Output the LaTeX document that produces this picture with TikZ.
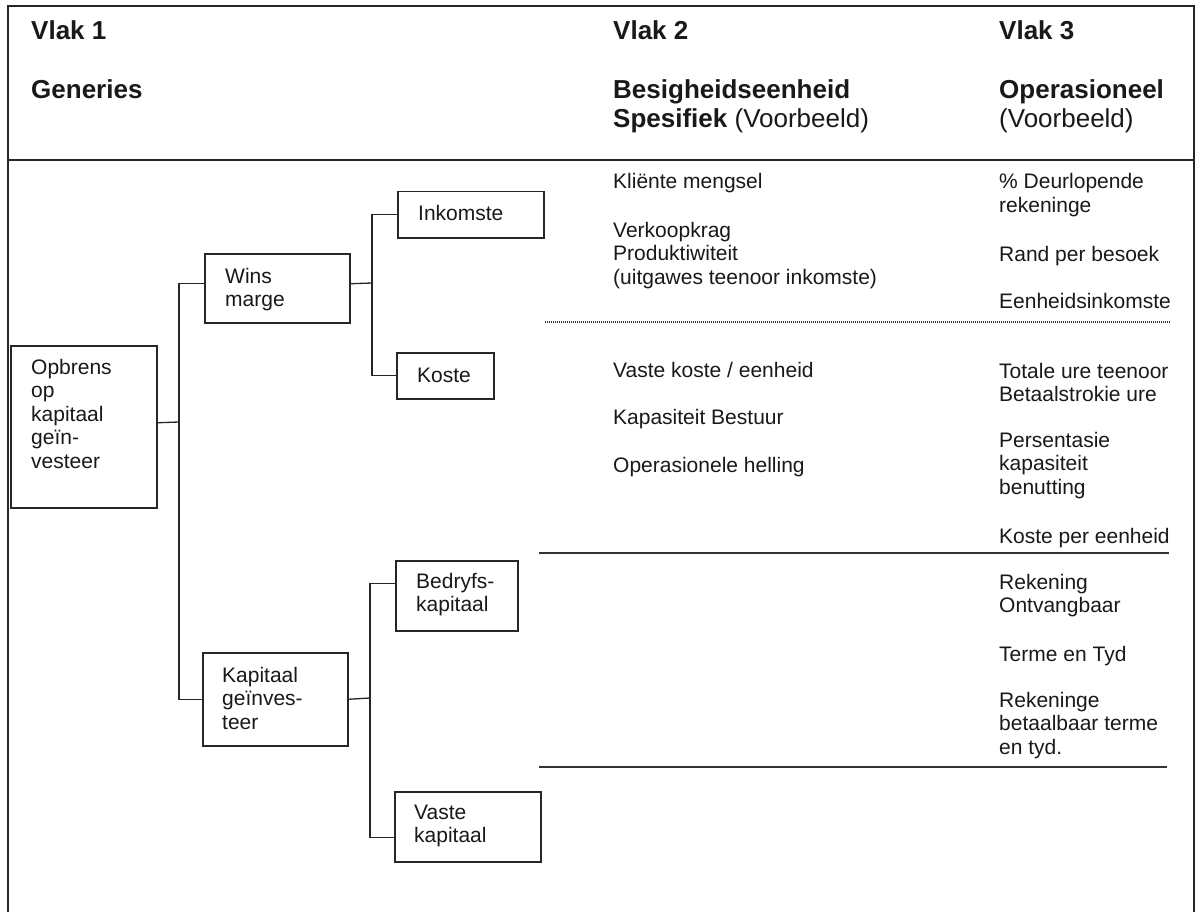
\documentclass[tikz,border=0pt]{standalone}
\usepackage{fontspec}
\setmainfont{Liberation Sans}
\newcommand{\mlines}[1]{\begin{tabular}[t]{@{}l@{}}#1\end{tabular}}
\begin{document}
\begin{tikzpicture}[x=1pt,y=-1pt,
  frame/.style={line width=1.6pt,draw=black!85},
  rule/.style={line width=1.4pt,draw=black!80},
  dotrule/.style={line width=1.6pt,draw=black!80,dash pattern=on 1pt off 1pt},
  conn/.style={line width=1.3pt,draw=black!85},
  tbox/.style={draw=black!85,line width=1.5pt,inner sep=0pt,anchor=north west},
  body/.style={inner sep=0pt,anchor=base west,font=\fontsize{21}{23.5}\selectfont,text=black!90},
  head/.style={inner sep=0pt,anchor=base west,font=\fontsize{26}{29}\selectfont\bfseries,text=black!90}]
\useasboundingbox (0,0) rectangle (1196,912);
\fill[white] (0,0) rectangle (1196,912);
% frame
\draw[frame] (8,912) -- (8,6) -- (1194,6) -- (1194,912);
\draw[frame] (8,160) -- (1194,160);
% headers
\node[head] (v1) at (31,40) {Vlak 1};
\node[head] (gen) at (31,99) {Generies};
\node[head] (v2) at (613,40) {Vlak 2};
\node[head] (bes) at (613,99) {\mlines{Besigheidseenheid\\Spesifiek \mdseries(Voorbeeld)}};
\node[head] (v3) at (999,40) {Vlak 3};
\node[head] (ope) at (999,99) {\mlines{Operasioneel\\\mdseries(Voorbeeld)}};
% tree boxes
\node[tbox,minimum width=146pt,minimum height=162pt] (opb) at (10,345) {};
\node[tbox,minimum width=145pt,minimum height=69pt] (wins) at (204,253) {};
\node[tbox,minimum width=146pt,minimum height=46pt] (ink) at (397,191) {};
\node[tbox,minimum width=97pt,minimum height=46pt] (kos) at (396,352) {};
\node[tbox,minimum width=145pt,minimum height=93pt] (kap) at (202,652) {};
\node[tbox,minimum width=122pt,minimum height=70pt] (bed) at (395,560) {};
\node[tbox,minimum width=146pt,minimum height=70pt] (vas) at (394,791) {};
% box texts
\node[body] (opbt) at (31,374) {\mlines{Opbrens\\op\\kapitaal\\geïn-\\vesteer}};
\node[body] (winst) at (225,283) {\mlines{Wins\\marge}};
\node[body] (inkt) at (418,220) {Inkomste};
\node[body] (kost) at (417,382) {Koste};
\node[body] (kapt) at (222,682) {\mlines{Kapitaal\\geïnves-\\teer}};
\node[body] (bedt) at (416,588) {\mlines{Bedryfs-\\kapitaal}};
\node[body] (vast) at (414,819) {\mlines{Vaste\\kapitaal}};
% connectors
\coordinate (j1) at (179,422);
\coordinate (j2) at (372,283);
\coordinate (j3) at (370,698);
\draw[conn] ([yshift=4pt]opb.east) -- (j1);
\draw[conn] ([yshift=4.5pt]wins.west) -| (j1) |- (kap.west);
\draw[conn] ([yshift=4.5pt]wins.east) -- (j2);
\draw[conn] (ink.west) -| (j2) |- (kos.west);
\draw[conn] (kap.east) -- (j3);
\draw[conn] ([yshift=12pt]bed.west) -| (j3) |- ([yshift=-11pt]vas.west);
% column 2
\node[body] (c2a) at (613,189) {Kliënte mengsel};
\node[body] (c2b) at (613,237) {\mlines{Verkoopkrag\\Produktiwiteit\\(uitgawes teenoor inkomste)}};
\node[body] (c2c) at (613,377) {Vaste koste / eenheid};
\node[body] (c2d) at (613,424) {Kapasiteit Bestuur};
\node[body] (c2e) at (613,472) {Operasionele helling};
% column 3
\node[body] (c3a) at (999,189) {\mlines{\% Deurlopende\\rekeninge}};
\node[body] (c3b) at (999,261) {Rand per besoek};
\node[body] (c3c) at (999,308) {Eenheidsinkomste};
\node[body] (c3d) at (999,378) {\mlines{Totale ure teenoor\\Betaalstrokie ure}};
\node[body] (c3e) at (999,447) {\mlines{Persentasie\\kapasiteit\\benutting}};
\node[body] (c3f) at (999,543) {Koste per eenheid};
\node[body] (c3g) at (999,589) {\mlines{Rekening\\Ontvangbaar}};
\node[body] (c3h) at (999,661) {Terme en Tyd};
\node[body] (c3i) at (999,707) {\mlines{Rekeninge\\betaalbaar terme\\en tyd.}};
% separators
\coordinate (d1) at (545,322); \coordinate (d2) at (1171,322);
\coordinate (s1) at (539,553); \coordinate (s2) at (1169,553);
\coordinate (s3) at (539,767); \coordinate (s4) at (1167,767);
\draw[dotrule] (d1) -- (d2);
\draw[rule] (s1) -- (s2);
\draw[rule] (s3) -- (s4);
\end{tikzpicture}
\end{document}
